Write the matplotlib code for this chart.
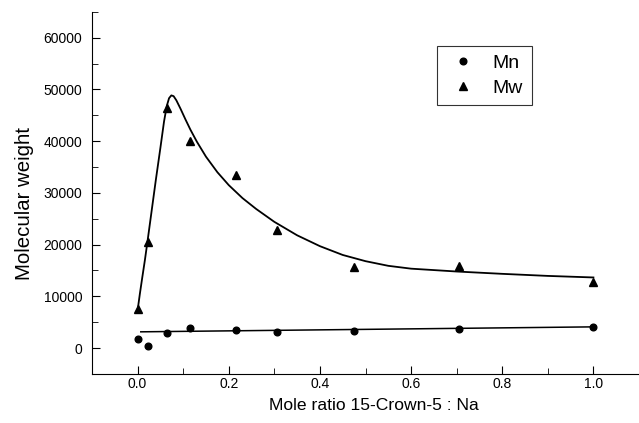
import matplotlib.pyplot as plt
from matplotlib.ticker import MultipleLocator

plt.rcParams['font.family'] = ['Liberation Sans', 'DejaVu Sans']

# measured points
ratio = [0.0, 0.023, 0.065, 0.115, 0.215, 0.305, 0.475, 0.705, 1.0]
mn = [1700, 400, 2900, 3800, 3500, 3100, 3300, 3600, 4100]
mw = [7500, 20600, 46400, 40000, 33400, 22800, 15600, 15900, 12800]

# fitted curves
mn_fit_x = [0.007, 1.0]
mn_fit_y = [3140, 4100]
mw_fit_x = [0.0, 0.005, 0.010, 0.016, 0.022, 0.030, 0.040, 0.050, 0.058,
            0.064, 0.069, 0.074, 0.079, 0.085, 0.094, 0.105, 0.116, 0.130,
            0.150, 0.175, 0.200, 0.230, 0.260, 0.300, 0.350, 0.400, 0.450,
            0.500, 0.550, 0.600, 0.700, 0.800, 0.900, 1.0]
mw_fit_y = [7300, 10500, 13500, 17000, 20800, 26000, 32500, 38700, 43800,
            46800, 48300, 48850, 48700, 47900, 46300, 44200, 42200, 39900,
            37000, 34000, 31500, 29000, 26900, 24400, 21800, 19700, 18000,
            16800, 15900, 15350, 14800, 14350, 13950, 13650]

fig = plt.figure(figsize=(6.39, 4.23), dpi=100)
ax = fig.add_axes([0.144, 0.116, 0.856, 0.856])

ax.plot(mn_fit_x, mn_fit_y, color='black', lw=1.1)
ax.plot(mw_fit_x, mw_fit_y, color='black', lw=1.3)
ax.plot(ratio, mn, 'o', color='black', ms=4.8, label='Mn')
ax.plot(ratio, mw, '^', color='black', ms=5.3, label='Mw')

ax.set_xlim(-0.1, 1.1)
ax.set_ylim(-5000, 65000)
ax.xaxis.set_minor_locator(MultipleLocator(0.1))
ax.yaxis.set_minor_locator(MultipleLocator(5000))
ax.set_yticks([0, 10000, 20000, 30000, 40000, 50000, 60000])
ax.set_xticks([0.0, 0.2, 0.4, 0.6, 0.8, 1.0])
ax.set_xticklabels(['0.0', '0.2', '0.4', '0.6', '0.8', '1.0'])

ax.spines['top'].set_visible(False)
ax.spines['right'].set_visible(False)
ax.tick_params(which='both', direction='in', labelsize=10)
ax.tick_params(which='major', length=6)
ax.tick_params(axis='x', which='major', pad=2.5)
ax.tick_params(axis='y', which='major', pad=7)
ax.tick_params(which='minor', length=4)

ax.set_xlabel('Mole ratio 15-Crown-5 : Na', fontsize=12.6, labelpad=5)
ax.set_ylabel('Molecular weight', fontsize=14.7, labelpad=7)
ax.xaxis.label.set_x(0.516)
ax.yaxis.label.set_y(0.47)

leg = ax.legend(loc='upper left', bbox_to_anchor=(0.631, 0.906), fontsize=14,
                frameon=True, fancybox=False, edgecolor='black',
                borderaxespad=0, handletextpad=0.6, borderpad=0.45,
                labelspacing=0.35, handlelength=1.8)
leg.get_frame().set_linewidth(0.8)

fig.savefig('out.png', dpi=100)
